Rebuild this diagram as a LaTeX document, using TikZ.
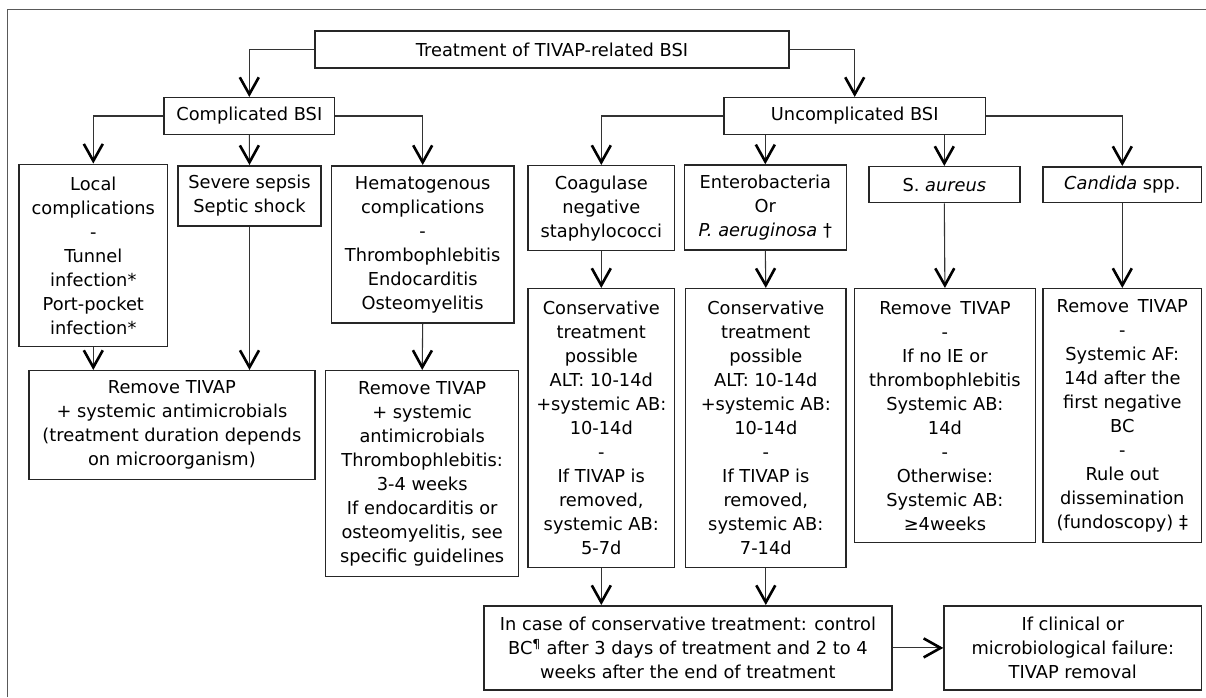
\documentclass[tikz,border=0pt]{standalone}
\usepackage{fontspec}
\setmainfont{DejaVu Sans}
\usetikzlibrary{arrows.meta}
\tikzset{every node/.style={font=\fontsize{17.8}{24}\selectfont}}
\colorlet{boxcol}{black!85}
\colorlet{linecol}{black!80}
\colorlet{tipcol}{black}
\colorlet{framecol}{black!65}
\tikzset{box/.style={draw=boxcol, line width=1.5pt, align=center, inner sep=3pt},
         arr/.style={->, line width=1.1pt, linecol}}

\begin{document}
\begin{tikzpicture}[x=1pt, y=-1pt, >={Straight Barb[length=17pt,width=19pt,line width=2.6pt,color=tipcol]}]

  \useasboundingbox (0,0) rectangle (1206,697);

  % Outer frame (cut by the page on the right and below).
  \draw[framecol, line width=1.5pt] (7.7,697) -- (7.7,9.3) -- (1206,9.3);

  % Top level.
  \node[box, minimum width=474pt, minimum height=37pt] (title) at (552,49.5)
    {Treatment of TIVAP-related BSI};
  \node[box, minimum width=170.5pt, minimum height=36.6pt] (comp) at (249.3,116)
    {Complicated BSI};
  \node[box, minimum width=261.4pt, minimum height=36.6pt] (uncomp) at (854.7,116)
    {Uncomplicated BSI};

  % Complicated branch.
  \node[box, minimum width=148.6pt, minimum height=182.4pt] (local) at (93.3,255.5)
    {Local\\complications\\-\\Tunnel\\infection*\\Port-pocket\\infection*};
  \node[box, minimum width=143pt, minimum height=60.3pt] (severe) at (249.5,195.9)
    {Severe sepsis\\Septic shock};
  \node[box, minimum width=182.6pt, minimum height=157.3pt] (hemato) at (422.7,244.4)
    {Hematogenous\\complications\\-\\Thrombophlebitis\\Endocarditis\\Osteomyelitis};
  \node[box, minimum width=286.3pt, minimum height=108.6pt] (remove1) at (171.9,425)
    {Remove TIVAP\\+ systemic antimicrobials\\(treatment duration depends\\on microorganism)};
  \node[box, minimum width=193pt, minimum height=206pt] (remove2) at (422.2,473.7)
    {Remove TIVAP\\+ systemic\\antimicrobials\\Thrombophlebitis:\\3-4 weeks\\If endocarditis or\\osteomyelitis, see\\specific guidelines};

  % Uncomplicated branch.
  \node[box, minimum width=146.6pt, minimum height=85pt] (coag) at (601.3,208.2)
    {Coagulase\\negative\\staphylococci};
  \node[box, minimum width=162pt, minimum height=85pt] (entero) at (765.3,207.5)
    {Enterobacteria\\Or\\\textit{P. aeruginosa} †};
  \node[box, minimum width=151pt, minimum height=36pt] (saureus) at (944.3,184.7)
    {S. \textit{aureus}};
  \node[box, minimum width=158.5pt, minimum height=35.5pt] (candida) at (1122.3,184.5)
    {\textit{Candida} spp.};
  \node[box, minimum width=146.6pt, minimum height=279pt] (coagcons) at (601.3,428.2)
    {Conservative\\treatment\\possible\\ALT: 10-14d\\+systemic AB:\\10-14d\\-\\If TIVAP is\\removed,\\systemic AB:\\5-7d};
  \node[box, minimum width=160.8pt, minimum height=279pt] (enterocons) at (765.8,428.2)
    {Conservative\\treatment\\possible\\ALT: 10-14d\\+systemic AB:\\10-14d\\-\\If TIVAP is\\removed,\\systemic AB:\\7-14d};
  \node[box, minimum width=181pt, minimum height=254pt] (sarem) at (944.9,415.7)
    {Remove\enspace TIVAP\\-\\If no IE or\\thrombophlebitis\\Systemic AB:\\14d\\-\\Otherwise:\\Systemic AB:\\≥4weeks};
  \node[box, minimum width=158.5pt, minimum height=254pt] (candrem) at (1122.3,415.7)
    {Remove\enspace TIVAP\\-\\Systemic AF:\\14d after the\\first negative\\BC\\-\\Rule out\\dissemination\\(fundoscopy) ‡};

  % Follow-up.
  \node[box, minimum width=407.8pt, minimum height=84.3pt] (bc) at (687.9,647.9)
    {In case of conservative treatment: control\\BC\textsuperscript{¶} after 3 days of treatment and 2 to 4\\weeks after the end of treatment};
  \node[box, minimum width=257.5pt, minimum height=84.3pt] (fail) at (1072.8,647.9)
    {If clinical or\\microbiological failure:\\TIVAP removal};

  % Connectors from the top.
  \draw[arr] (title.west) -| (comp.north);
  \draw[arr] (title.east) -| (uncomp.north);
  \draw[arr] (comp.west) -| (local.north);
  \draw[arr] (comp.south) -- (severe.north);
  \draw[arr] (comp.east) -| (hemato.north);
  \draw[arr] (uncomp.west) -| (coag.north);
  \draw[arr] (uncomp.south -| entero.north) -- (entero.north);
  \draw[arr] (uncomp.south -| saureus.north) -- (saureus.north);
  \draw[arr] (uncomp.east) -| (candida.north);

  % Connectors down to treatments.
  \draw[arr] (local.south) -- (local.south |- remove1.north);
  \draw[arr] (severe.south) -- (severe.south |- remove1.north);
  \draw[arr] (hemato.south) -- (remove2.north);
  \draw[arr] (coag.south) -- (coagcons.north);
  \draw[arr] (entero.south) -- (enterocons.north);
  \draw[arr] (saureus.south) -- (sarem.north);
  \draw[arr] (candida.south) -- (candrem.north);
  \draw[arr] (coagcons.south) -- (coagcons.south |- bc.north);
  \draw[arr] (enterocons.south) -- (enterocons.south |- bc.north);
  \draw[arr] (bc.east) -- (fail.west);

\end{tikzpicture}
\end{document}
